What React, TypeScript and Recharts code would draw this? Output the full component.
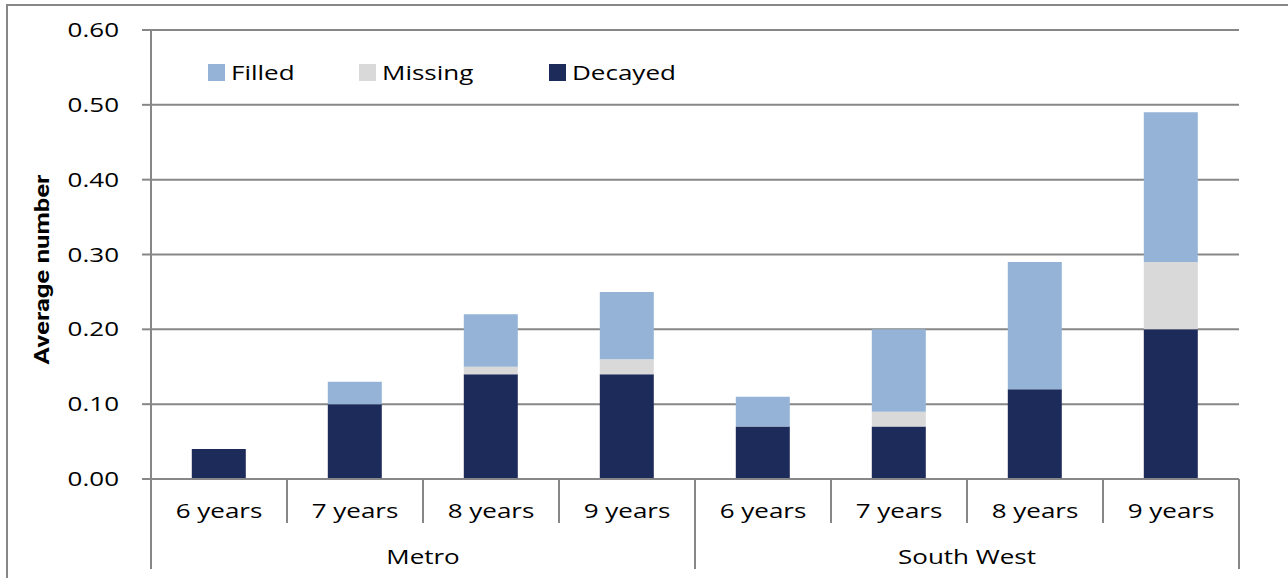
import React from "react";
import { BarChart, Bar, XAxis, YAxis, CartesianGrid } from "recharts";

const groups = ["Metro", "Metro", "Metro", "Metro", "South West", "South West", "South West", "South West"];
const ages = ["6 years", "7 years", "8 years", "9 years", "6 years", "7 years", "8 years", "9 years"];
const decayed = [0.04, 0.1, 0.14, 0.14, 0.07, 0.07, 0.12, 0.2];
const missing = [0, 0, 0.01, 0.02, 0, 0.02, 0, 0.09];
const filled = [0, 0.03, 0.07, 0.09, 0.04, 0.11, 0.17, 0.2];
const yTicks = [0, 0.1, 0.2, 0.3, 0.4, 0.5, 0.6];

const data = ages.map((age, i) => ({
  key: `${groups[i]}-${age}`,
  age,
  group: groups[i],
  decayed: decayed[i],
  missing: missing[i],
  filled: filled[i],
}));

const FONT = "'Open Sans', 'DejaVu Sans', sans-serif";
const STRETCH = 1.3; // reference text is drawn wide
const AXIS_GREY = "#878787";
const COLORS = { filled: "#95B3D7", missing: "#D9D9D9", decayed: "#1C2B5A" };

const legendItems = [
  { label: "Filled", color: COLORS.filled, left: 208 },
  { label: "Missing", color: COLORS.missing, left: 359 },
  { label: "Decayed", color: COLORS.decayed, left: 549 },
];

function WideText({ x, y, anchor, children }: any) {
  return (
    <text
      transform={`translate(${x},${y}) scale(${STRETCH},1)`}
      textAnchor={anchor}
      fontFamily={FONT}
      fontSize={20}
      fill="#000"
    >
      {children}
    </text>
  );
}

function YTick(props: any) {
  const { x, y, payload } = props;
  return (
    <WideText x={x} y={y + 7} anchor="end">
      {Number(payload.value).toFixed(2)}
    </WideText>
  );
}

function CategoryTick(props: any) {
  const { x, y, index, width } = props;
  const band = width / data.length;
  const right = x + band / 2;
  const left = x - band / 2;
  const groupEnd = index === data.length - 1 || data[index + 1].group !== data[index].group;
  const groupSize = data.filter((d) => d.group === data[index].group).length;
  const firstIdx = data.findIndex((d) => d.group === data[index].group);
  return (
    <g>
      <WideText x={x} y={y + 39} anchor="middle">
        {data[index].age}
      </WideText>
      {index === 0 && <line x1={left} x2={left} y1={y} y2={y + 90} stroke={AXIS_GREY} strokeWidth={2} />}
      <line x1={right} x2={right} y1={y} y2={groupEnd ? y + 90 : y + 44} stroke={AXIS_GREY} strokeWidth={2} />
      {index === firstIdx && (
        <WideText x={left + (band * groupSize) / 2} y={y + 85} anchor="middle">
          {data[index].group}
        </WideText>
      )}
    </g>
  );
}

function YTitle(props: any) {
  const { viewBox } = props;
  const cx = 42;
  const cy = viewBox.y + viewBox.height / 2 + 15;
  return (
    <text
      transform={`translate(${cx},${cy}) rotate(-90)`}
      textAnchor="middle"
      dominantBaseline="central"
      fontFamily="'Liberation Sans Narrow', 'Roboto', sans-serif"
      fontWeight="bold"
      fontSize={21}
      textLength={190}
      lengthAdjust="spacingAndGlyphs"
      fill="#000"
    >
      Average number
    </text>
  );
}

export default function App() {
  return (
    <div style={{ position: "absolute", left: 0, top: 0, width: 1288, height: 578, overflow: "hidden", background: "#fff" }}>
      <div
        style={{
          position: "absolute",
          left: 6,
          top: 4,
          width: 1300,
          height: 620,
          border: `2px solid ${AXIS_GREY}`,
        }}
      />
      <div style={{ position: "absolute", left: 0, top: 0 }}>
        <BarChart
          width={1288}
          height={578}
          data={data}
          margin={{ top: 30, right: 49, left: 51, bottom: 9 }}
          barCategoryGap="30%"
        >
          <CartesianGrid horizontal vertical={false} stroke={AXIS_GREY} strokeWidth={2} />
          <XAxis
            dataKey="key"
            height={90}
            interval={0}
            tickLine={false}
            tickSize={0}
            tickMargin={0}
            axisLine={{ stroke: AXIS_GREY, strokeWidth: 2 }}
            tick={<CategoryTick />}
          />
          <YAxis
            width={100}
            domain={[0, 0.6]}
            ticks={yTicks}
            interval={0}
            tickSize={9}
            tickMargin={23}
            axisLine={{ stroke: AXIS_GREY, strokeWidth: 2 }}
            tickLine={{ stroke: AXIS_GREY, strokeWidth: 2 }}
            tick={<YTick />}
            label={{ content: <YTitle /> }}
          />
          <Bar dataKey="decayed" name="Decayed" stackId="a" fill={COLORS.decayed} isAnimationActive={false} />
          <Bar dataKey="missing" name="Missing" stackId="a" fill={COLORS.missing} isAnimationActive={false} />
          <Bar dataKey="filled" name="Filled" stackId="a" fill={COLORS.filled} isAnimationActive={false} />
        </BarChart>
      </div>
      {legendItems.map((it) => (
        <div
          key={it.label}
          style={{
            position: "absolute",
            left: it.left,
            top: 60,
            height: 24,
            display: "flex",
            alignItems: "center",
            fontFamily: FONT,
            fontSize: 20,
            color: "#000",
            whiteSpace: "nowrap",
          }}
        >
          <span style={{ display: "inline-block", width: 17, height: 17, background: it.color, marginRight: 6 }} />
          <span style={{ display: "inline-block", transform: `scaleX(${STRETCH})`, transformOrigin: "left center" }}>
            {it.label}
          </span>
        </div>
      ))}
    </div>
  );
}
